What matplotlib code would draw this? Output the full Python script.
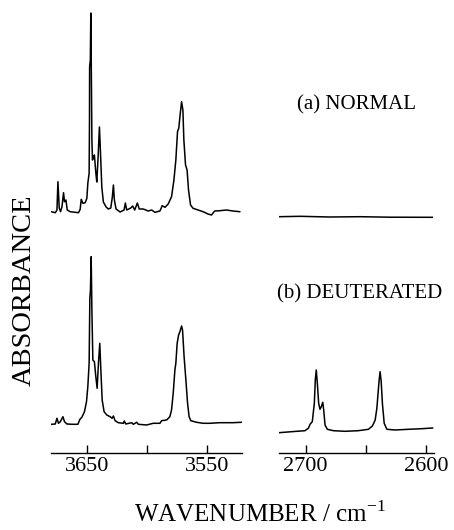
import matplotlib
matplotlib.use('Agg')
import matplotlib.pyplot as plt
import numpy as np

plt.rcParams['font.family'] = 'Liberation Serif'
plt.rcParams['mathtext.fontset'] = 'custom'
plt.rcParams['mathtext.rm'] = 'Liberation Serif'

# (a) normal, OH stretch region
wn_a_oh = [3680.2, 3676.9, 3675.5, 3674.7, 3673.6, 3672.5, 3671.3, 3670.0, 3669.2, 3668.0,
           3666.9, 3664.4, 3660.2, 3657.5, 3656.1, 3655.2, 3653.8, 3651.9, 3650.5, 3649.7,
           3648.6, 3648.3, 3648.2, 3647.6, 3647.2, 3646.7, 3646.3, 3645.8, 3645.0, 3644.2,
           3643.0, 3642.2, 3641.1, 3640.0, 3639.2, 3638.0, 3636.7, 3634.4, 3632.5, 3630.5,
           3629.2, 3628.3, 3627.5, 3626.1, 3622.7, 3619.4, 3618.3, 3617.2, 3613.8, 3612.2,
           3610.5, 3608.3, 3606.7, 3603.3, 3599.2, 3596.3, 3593.6, 3589.4, 3587.5, 3585.2,
           3582.5, 3579.7, 3577.7, 3576.1, 3574.7, 3573.6, 3572.7, 3571.3, 3570.2, 3569.4,
           3568.0, 3566.7, 3565.5, 3563.8, 3561.7, 3557.5, 3553.3, 3549.2, 3546.3, 3543.6,
           3539.4, 3533.8, 3528.3, 3522.7]
abs_a_oh = [2.413, 2.403, 2.43, 2.713, 2.45, 2.413, 2.463, 2.603, 2.513, 2.53,
            2.43, 2.413, 2.407, 2.403, 2.437, 2.537, 2.497, 2.503, 2.547, 2.697,
            2.797, 3.33, 3.86, 3.93, 4.40, 3.73, 3.13, 2.93, 2.96, 2.98,
            2.80, 2.71, 2.96, 3.26, 3.03, 2.66, 2.51, 2.46, 2.44, 2.45,
            2.56, 2.68, 2.53, 2.44, 2.41, 2.43, 2.50, 2.43, 2.45, 2.47,
            2.43, 2.50, 2.44, 2.44, 2.42, 2.43, 2.407, 2.42, 2.473, 2.457,
            2.49, 2.563, 2.73, 2.93, 3.213, 3.25, 3.363, 3.513, 3.43, 3.13,
            2.88, 2.83, 2.63, 2.48, 2.447, 2.43, 2.413, 2.39, 2.38, 2.42,
            2.423, 2.43, 2.42, 2.413]

# (a) normal, OD stretch region (flat)
wn_a_od = [2722.2, 2704.7, 2679.7, 2654.7, 2629.7, 2594.7]
abs_a_od = [2.363, 2.367, 2.36, 2.363, 2.358, 2.357]

# (b) deuterated, OH stretch region
wn_b_oh = [3680.2, 3676.9, 3675.5, 3674.2, 3672.7, 3670.5, 3669.2, 3667.2, 3663.0, 3658.0,
           3656.3, 3654.7, 3652.5, 3650.8, 3649.7, 3648.6, 3648.0, 3647.5, 3646.9, 3646.3,
           3645.5, 3644.2, 3643.0, 3641.9, 3640.8, 3639.7, 3638.8, 3637.7, 3636.1, 3633.8,
           3631.1, 3629.4, 3628.3, 3626.9, 3624.2, 3620.0, 3619.2, 3618.0, 3613.0, 3611.7,
           3608.8, 3607.5, 3600.5, 3595.0, 3589.4, 3588.0, 3583.8, 3581.1, 3579.7, 3578.3,
           3576.9, 3576.1, 3575.0, 3573.8, 3572.7, 3571.3, 3570.5, 3569.2, 3567.7, 3566.3,
           3565.0, 3563.6, 3558.8, 3553.3, 3547.7, 3539.4, 3528.3, 3521.3]
abs_b_oh = [0.287, 0.29, 0.347, 0.297, 0.313, 0.363, 0.313, 0.29, 0.287, 0.287,
            0.337, 0.357, 0.413, 0.513, 0.663, 0.897, 1.55, 1.63, 1.963, 1.43,
            0.93, 0.913, 0.763, 0.647, 0.90, 1.097, 0.83, 0.53, 0.413, 0.38,
            0.363, 0.347, 0.37, 0.323, 0.303, 0.297, 0.32, 0.29, 0.303, 0.287,
            0.307, 0.287, 0.28, 0.297, 0.297, 0.323, 0.33, 0.363, 0.43, 0.597,
            0.83, 0.897, 1.097, 1.18, 1.213, 1.27, 1.23, 0.963, 0.73, 0.497,
            0.363, 0.323, 0.307, 0.297, 0.297, 0.303, 0.303, 0.307]

# (b) deuterated, OD stretch region
wn_b_od = [2722.2, 2711.7, 2700.6, 2697.8, 2696.2, 2694.5, 2692.8, 2692.0, 2691.2, 2690.3,
           2689.2, 2688.1, 2687.0, 2685.8, 2685.0, 2683.9, 2682.0, 2677.0, 2667.2, 2656.2,
           2647.8, 2644.5, 2642.2, 2640.8, 2639.7, 2638.9, 2638.1, 2637.2, 2636.2, 2634.7,
           2632.5, 2625.6, 2614.5, 2603.3, 2594.5]
abs_b_od = [0.203, 0.213, 0.223, 0.247, 0.29, 0.313, 0.497, 0.73, 0.83, 0.697,
            0.497, 0.437, 0.463, 0.507, 0.43, 0.28, 0.237, 0.223, 0.217, 0.223,
            0.237, 0.27, 0.33, 0.447, 0.613, 0.73, 0.813, 0.713, 0.497, 0.297,
            0.237, 0.23, 0.237, 0.243, 0.25]

fig = plt.figure(figsize=(4.54, 5.30), dpi=100)
ax1 = fig.add_axes([0.1123, 0.1453, 0.4207, 0.8358])
ax2 = fig.add_axes([0.6145, 0.1453, 0.3414, 0.8358])

ax1.plot(wn_a_oh, abs_a_oh, color='black', lw=1.1)
ax1.plot(wn_b_oh, abs_b_oh, color='black', lw=1.1)
ax2.plot(wn_a_od, abs_a_od, color='black', lw=1.1)
ax2.plot(wn_b_od, abs_b_od, color='black', lw=1.1)

ax1.set_xlim(3680.5, 3520.8)
ax2.set_xlim(2722.2, 2593.3)
ax1.set_xticks([3650, 3600, 3550])
ax1.set_xticklabels(['3650', '', '3550'])
ax2.set_xticks([2700, 2650, 2600])
ax2.set_xticklabels(['2700', '', '2600'])

for ax in (ax1, ax2):
    ax.set_ylim(0, 4.43)
    ax.set_yticks([])
    for s in ('top', 'right', 'left'):
        ax.spines[s].set_visible(False)
    ax.spines['bottom'].set_linewidth(1.0)
    ax.tick_params(axis='x', direction='in', length=6, width=1.0, labelsize=16, pad=3)

ax2.text(0.5, 0.785, '(a) NORMAL', transform=ax2.transAxes, ha='center', va='center', fontsize=15)
ax2.text(0.52, 0.36, '(b) DEUTERATED', transform=ax2.transAxes, ha='center', va='center', fontsize=15)

fig.text(260 / 454, 1 - 514 / 530, 'WAVENUMBER / cm$^{-1}$', ha='center', va='center', fontsize=18)
fig.text(24 / 454, 1 - 290 / 530, 'ABSORBANCE', ha='center', va='center', rotation=90, fontsize=20.5)

fig.savefig('out.png', dpi=100)
